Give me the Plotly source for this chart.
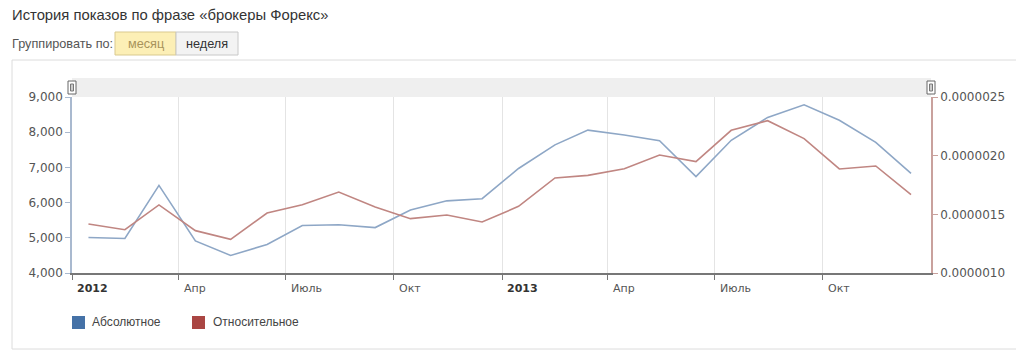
import plotly.graph_objects as go

months = ["2012-01-15", "2012-02-15", "2012-03-15", "2012-04-15", "2012-05-15", "2012-06-15",
          "2012-07-15", "2012-08-15", "2012-09-15", "2012-10-15", "2012-11-15", "2012-12-15",
          "2013-01-15", "2013-02-15", "2013-03-15", "2013-04-15", "2013-05-15", "2013-06-15",
          "2013-07-15", "2013-08-15", "2013-09-15", "2013-10-15", "2013-11-15", "2013-12-15"]

absolute = [5010, 4980, 6490, 4910, 4500, 4810, 5350, 5370, 5290, 5790, 6050, 6110,
            6970, 7640, 8060, 7920, 7760, 6740, 7770, 8420, 8780, 8340, 7710, 6830]

relative = [1.418e-6, 1.369e-6, 1.580e-6, 1.361e-6, 1.287e-6, 1.511e-6, 1.582e-6, 1.690e-6,
            1.563e-6, 1.463e-6, 1.494e-6, 1.435e-6, 1.568e-6, 1.810e-6, 1.832e-6, 1.889e-6,
            2.006e-6, 1.949e-6, 2.216e-6, 2.298e-6, 2.145e-6, 1.887e-6, 1.912e-6, 1.667e-6]

tick_dates = ["2012-01-01", "2012-04-01", "2012-07-01", "2012-10-01",
              "2013-01-01", "2013-04-01", "2013-07-01", "2013-10-01"]
tick_labels = ["2012", "Апр", "Июль", "Окт", "2013", "Апр", "Июль", "Окт"]

series_names = ["Абсолютное", "Относительное"]
title_text = "История показов по фразе «брокеры Форекс»"
group_label = "Группировать по:"
buttons = ["месяц", "неделя"]

# page has an 8px body margin; coordinates below are page pixels
OFF = 8
W, H = 1024 - OFF, 357 - OFF
PL, PR, PT, PB = 72, 931, 97, 273  # plot area in page pixels
L, T = PL - OFF, PT - OFF
R = W - (PR - OFF)
B = H - (PB - OFF)
PW, PH = PR - PL, PB - PT


def px(x):
    return (x - PL) / PW


def py(y):
    return (PB - y) / PH


line_blue = "#8ea7c6"
line_red = "#c08682"
leg_blue = "#4572a7"
leg_red = "#aa4643"

fig = go.Figure()
fig.add_trace(go.Scatter(x=months, y=absolute, mode="lines", name=series_names[0],
                         line=dict(color=line_blue, width=1.6), showlegend=False))
fig.add_trace(go.Scatter(x=months, y=relative, mode="lines", name=series_names[1],
                         line=dict(color=line_red, width=1.6), yaxis="y2", showlegend=False))

tickfont = dict(family="DejaVu Sans, Verdana, sans-serif", size=12, color="#555555")

fig.update_layout(
    width=W, height=H,
    margin=dict(l=L, r=R, t=T, b=B, pad=0),
    paper_bgcolor="white", plot_bgcolor="white",
    showlegend=False,
    xaxis=dict(range=["2012-01-01", "2014-01-01"], type="date",
               tickvals=tick_dates, showticklabels=False,
               ticks="outside", ticklen=5, tickcolor="#777777",
               showgrid=True, gridcolor="#e4e4e4", gridwidth=1,
               showline=True, linecolor="#777777", linewidth=1.5, zeroline=False),
    yaxis=dict(range=[4000, 9000], tickvals=[4000, 5000, 6000, 7000, 8000, 9000],
               tickformat=",d", tickfont=tickfont, showgrid=False, zeroline=False,
               showline=True, linecolor="#a9b9cf", linewidth=1.5,
               ticks="outside", ticklen=5, tickcolor="#a9b9cf"),
    yaxis2=dict(range=[1.0e-6, 2.5e-6], overlaying="y", side="right",
                tickvals=[1.0e-6, 1.5e-6, 2.0e-6, 2.5e-6], tickformat=".7f",
                tickfont=tickfont, showgrid=False, zeroline=False,
                showline=True, linecolor="#c9a19d", linewidth=1.5,
                ticks="outside", ticklen=5, tickcolor="#c9a19d"),
)

shapes = []
# outer frame
shapes.append(dict(type="rect", xref="paper", yref="paper", x0=px(12), x1=px(1018), y0=py(349), y1=py(60),
                   line=dict(color="#dcdcdc", width=1), fillcolor="rgba(0,0,0,0)", layer="below"))
# gray scroll band
shapes.append(dict(type="rect", xref="paper", yref="paper", x0=0, x1=1, y0=1, y1=py(78),
                   line=dict(width=0), fillcolor="#efefef", layer="below"))
# handles
for xa in [0, 1]:
    shapes.append(dict(type="rect", xref="paper", yref="paper", xsizemode="pixel", ysizemode="pixel",
                       xanchor=xa, yanchor=1, x0=-4, x1=4, y0=3, y1=16,
                       line=dict(color="#666666", width=1), fillcolor="white"))
    shapes.append(dict(type="rect", xref="paper", yref="paper", xsizemode="pixel", ysizemode="pixel",
                       xanchor=xa, yanchor=1, x0=-1.5, x1=1.5, y0=6, y1=13,
                       line=dict(color="#777777", width=1), fillcolor="#cccccc"))
# buttons
shapes.append(dict(type="rect", xref="paper", yref="paper", x0=px(115), x1=px(176), y0=py(55), y1=py(32),
                   line=dict(color="#d9c98e", width=1), fillcolor="#fcefb6"))
shapes.append(dict(type="rect", xref="paper", yref="paper", x0=px(176), x1=px(238), y0=py(55), y1=py(32),
                   line=dict(color="#c8c8c8", width=1), fillcolor="#f3f3f3"))
# legend squares
for x0, col in [(72, leg_blue), (192, leg_red)]:
    shapes.append(dict(type="rect", xref="paper", yref="paper", x0=px(x0), x1=px(x0 + 13),
                       y0=py(329), y1=py(316), line=dict(width=0), fillcolor=col))
fig.update_layout(shapes=shapes)

ann = []
hdr = "Arial, Liberation Sans, sans-serif"
ann.append(dict(text=title_text, xref="paper", yref="paper", x=px(10), y=py(15), xanchor="left",
                yanchor="middle", showarrow=False, font=dict(family=hdr, size=14.8, color="#333333")))
ann.append(dict(text=group_label, xref="paper", yref="paper", x=px(10), y=py(44), xanchor="left",
                yanchor="middle", showarrow=False, font=dict(family=hdr, size=12.7, color="#555555")))
ann.append(dict(text=buttons[0], xref="paper", yref="paper", x=px(145.5), y=py(44), xanchor="center",
                yanchor="middle", showarrow=False, font=dict(family=hdr, size=12.7, color="#a8935a")))
ann.append(dict(text=buttons[1], xref="paper", yref="paper", x=px(207), y=py(44), xanchor="center",
                yanchor="middle", showarrow=False, font=dict(family=hdr, size=12.7, color="#333333")))
for x0, name in [(90, series_names[0]), (211, series_names[1])]:
    ann.append(dict(text=name, xref="paper", yref="paper", x=px(x0), y=py(322), xanchor="left",
                    yanchor="middle", showarrow=False, font=dict(family=hdr, size=12, color="#444444")))
for d, lab in zip(tick_dates, tick_labels):
    bold = lab.isdigit()
    ann.append(dict(text=f"<b>{lab}</b>" if bold else lab, xref="x", yref="paper", x=d, y=py(288),
                    xanchor="left", yanchor="middle", xshift=3, showarrow=False,
                    font=dict(family="DejaVu Sans, Verdana, sans-serif", size=11,
                              color="#333333" if bold else "#555555")))
fig.update_layout(annotations=ann)

fig.write_html("out.html")
